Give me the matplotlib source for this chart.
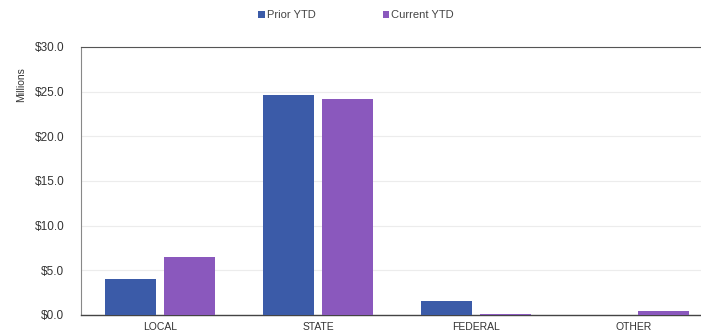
import numpy as np
import matplotlib.pyplot as plt
from matplotlib.ticker import FuncFormatter

plt.rcParams["font.family"] = ["Liberation Sans", "DejaVu Sans"]

categories = ["LOCAL", "STATE", "FEDERAL", "OTHER"]
prior_ytd = [4.0, 24.6, 1.6, 0.05]
current_ytd = [6.5, 24.2, 0.15, 0.45]
series_names = ["Prior YTD", "Current YTD"]

blue = "#3b5ba8"
purple = "#8a58bd"

fig = plt.figure(figsize=(7.01, 3.36), dpi=100)
ax = fig.add_axes([81 / 701, 21 / 336, 632 / 701, 268 / 336])

x = np.arange(len(categories))
w = 0.32
ax.bar(x - 0.185, prior_ytd, w, color=blue, label=series_names[0], zorder=3)
ax.bar(x + 0.185, current_ytd, w, color=purple, label=series_names[1], zorder=3)

ax.set_xlim(-0.5, 3.5)
ax.set_ylim(0, 30)
ax.set_yticks(np.arange(0, 31, 5))
ax.yaxis.set_major_formatter(FuncFormatter(lambda v, _: f"${v:.1f}"))
ax.set_xticks(x)
ax.set_xticklabels(categories)
ax.tick_params(axis="both", length=0, colors="#333333")
ax.tick_params(axis="y", labelsize=8.5, pad=12)
ax.tick_params(axis="x", labelsize=7.5, pad=5)

ax.grid(axis="y", color="#ececec", linewidth=0.8, zorder=0)
ax.spines["right"].set_visible(False)
ax.spines["top"].set_color("#555555")
ax.spines["top"].set_linewidth(0.8)
ax.spines["left"].set_color("#888888")
ax.spines["left"].set_linewidth(0.8)
ax.spines["bottom"].set_color("#444444")
ax.spines["bottom"].set_linewidth(1.0)

ax.set_ylabel("Millions", fontsize=7.5, color="#333333")
ax.yaxis.set_label_coords(-0.087, 0.86)

fig.legend(loc="upper center", bbox_to_anchor=(0.508, 1.0), ncol=2, frameon=False,
           fontsize=8, handlelength=0.6, handleheight=0.6, handletextpad=0.2,
           columnspacing=6.0, labelcolor="#444444")

fig.savefig("out.png", dpi=100)
